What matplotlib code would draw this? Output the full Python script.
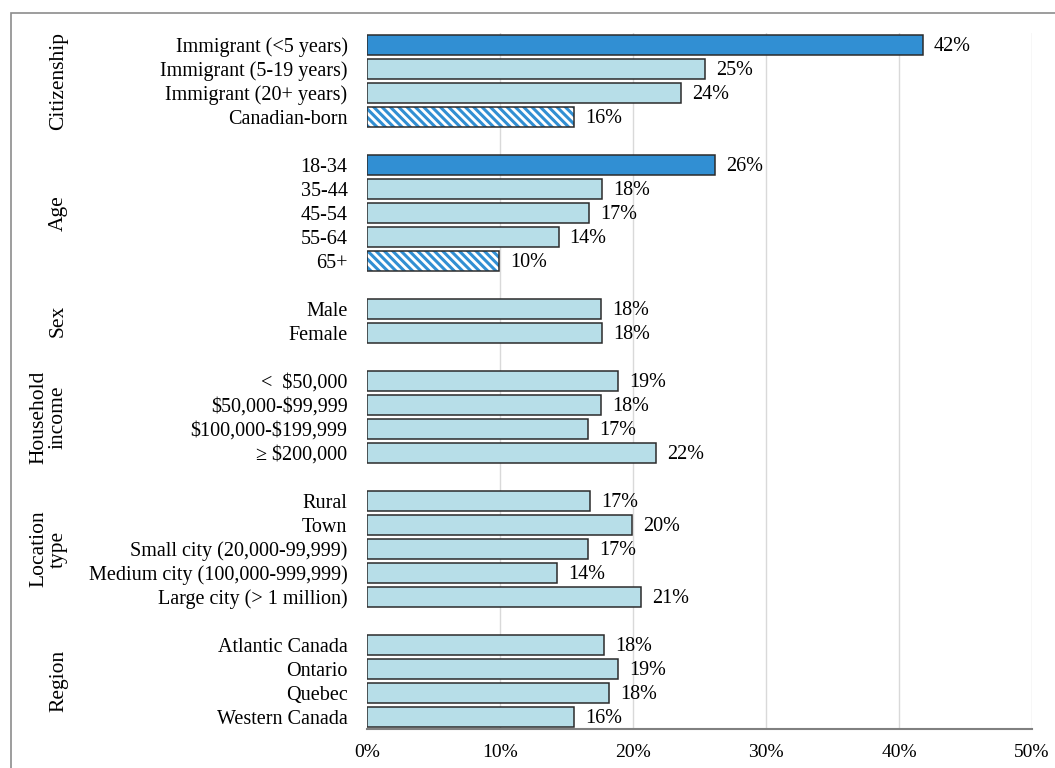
import matplotlib.pyplot as plt
from matplotlib import transforms
from matplotlib.patches import Rectangle

plt.rcParams['font.family'] = ['Liberation Serif', 'DejaVu Serif']
plt.rcParams['hatch.linewidth'] = 2.2

# ---- data ----
group_names = ["Citizenship", "Age", "Sex", "Household\nincome", "Location\ntype", "Region"]

citizenship_labels = ["Immigrant (<5 years)", "Immigrant (5-19 years)", "Immigrant (20+ years)", "Canadian-born"]
citizenship_vals = [41.8, 25.4, 23.6, 15.6]

age_labels = ["18-34", "35-44", "45-54", "55-64", "65+"]
age_vals = [26.2, 17.7, 16.7, 14.4, 9.9]

sex_labels = ["Male", "Female"]
sex_vals = [17.6, 17.7]

income_labels = ["<  \\$50,000", "\\$50,000-\\$99,999", "\\$100,000-\\$199,999", "\u2265 \\$200,000"]
income_vals = [18.9, 17.6, 16.6, 21.7]

location_labels = ["Rural", "Town", "Small city (20,000-99,999)", "Medium city (100,000-999,999)", "Large city (> 1 million)"]
location_vals = [16.8, 19.9, 16.6, 14.3, 20.6]

region_labels = ["Atlantic Canada", "Ontario", "Quebec", "Western Canada"]
region_vals = [17.8, 18.9, 18.2, 15.6]

# bar style per category: highest group and reference group are marked
citizenship_style = ["dark", "light", "light", "hatch"]
age_style = ["dark", "light", "light", "light", "hatch"]

groups = [
    (citizenship_labels, citizenship_vals, citizenship_style),
    (age_labels, age_vals, age_style),
    (sex_labels, sex_vals, None),
    (income_labels, income_vals, None),
    (location_labels, location_vals, None),
    (region_labels, region_vals, None),
]

LIGHT = '#b7dee8'
DARK = '#318fd3'
EDGE = '#2b2b2b'

W, H = 1055, 768
fig = plt.figure(figsize=(W / 100, H / 100), dpi=100)
ax = fig.add_axes([367 / W, 1 - 729 / H, (1032 - 367) / W, (729 - 33) / H])

ypos, ylabels, centers = [], [], []
y = 0
for labels, vals, styles in groups:
    start = y
    for i, (lab, v) in enumerate(zip(labels, vals)):
        st = styles[i] if styles else "light"
        if st == "hatch":
            ax.barh(y, v, height=0.8, color='white', edgecolor=DARK,
                    hatch='\\\\\\\\', linewidth=0, zorder=3)
            ax.barh(y, v, height=0.8, fill=False, edgecolor=EDGE,
                    linewidth=1.1, zorder=4)
        else:
            ax.barh(y, v, height=0.8, color=DARK if st == "dark" else LIGHT,
                    edgecolor=EDGE, linewidth=1.1, zorder=3)
        ax.annotate(f"{v:.0f}%", xy=(v, y), xytext=(8, -1), textcoords='offset points',
                    va='center', ha='left', fontsize=14.5)
        ypos.append(y)
        ylabels.append(lab)
        y += 1
    centers.append((start + y - 1) / 2)
    y += 1

ax.set_xlim(0, 50)
ax.set_ylim(y - 1.5, -0.5)
ax.set_yticks(ypos)
ax.set_yticklabels(ylabels, fontsize=14.5)
ax.set_xticks(range(0, 51, 10))
ax.set_xticklabels([f"{t}%" for t in range(0, 51, 10)], fontsize=14)
ax.tick_params(axis='both', length=0)
ax.tick_params(axis='y', pad=14)
ax.tick_params(axis='x', pad=11)

ax.xaxis.grid(True, color='#d9d9d9', linewidth=1)
ax.get_xgridlines()[0].set_visible(False)
ax.set_axisbelow(True)
for side in ['top', 'right', 'left']:
    ax.spines[side].set_visible(False)
ax.spines['bottom'].set_color('#808080')
ax.spines['bottom'].set_linewidth(1.5)

# group names on the left
trans = transforms.blended_transform_factory(fig.transFigure, ax.transData)
for name, c in zip(group_names, centers):
    ax.text(68 / W, c, name, rotation=90, ha='right', va='center',
            multialignment='center', linespacing=1.05, fontsize=15.5,
            transform=trans, clip_on=False)

# outer frame
fig.add_artist(Rectangle((11 / W, -0.05), 1.1, 1.05 - 13.5 / H, transform=fig.transFigure,
                         fill=False, edgecolor='#8c8c8c', linewidth=1.2))

fig.savefig("out.png", dpi=100)
